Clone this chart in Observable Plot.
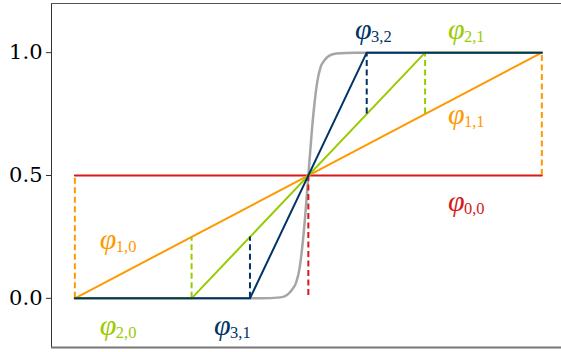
<!DOCTYPE html>
<html>
<head>
<meta charset="utf-8">
<script src="https://cdn.jsdelivr.net/npm/d3@7"></script>
<script src="https://cdn.jsdelivr.net/npm/@observablehq/plot@0.6"></script>
<style>
  html, body { margin: 0; padding: 0; background: #fff; }
  #chart svg { display: block; }
</style>
</head>
<body>
<div id="chart"></div>
<script>
// ---- data ----
const yTicks = [0, 0.5, 1];

// piecewise-linear basis functions (knots)
const phi00X = [0, 1];          const phi00Y = [0.5, 0.5];
const phi1X  = [0, 1];          const phi1Y  = [0, 1];
const phi2X  = [0, 0.25, 0.75, 1]; const phi2Y = [0, 0, 1, 1];
const phi3X  = [0, 0.375, 0.625, 1]; const phi3Y = [0, 0, 1, 1];

// steep gray step curve
const grayX = [0, 0.40, 0.44, 0.455, 0.465, 0.474, 0.481, 0.487, 0.493, 0.5, 0.507, 0.513, 0.519, 0.526, 0.535, 0.545, 0.56, 0.60, 1];
const grayY = [0, 0, 0.004, 0.015, 0.035, 0.065, 0.12, 0.21, 0.33, 0.5, 0.67, 0.79, 0.88, 0.94, 0.97, 0.988, 0.997, 1, 1];

// dashed drops: x, from, to
const redDashX = [0.5];            const redDashY1 = [0.5];         const redDashY2 = [0];
const orangeDashX = [0, 1];        const orangeDashY1 = [0, 0.5];   const orangeDashY2 = [0.5, 1];
const greenDashX = [0.25, 0.75];   const greenDashY1 = [0, 0.75];   const greenDashY2 = [0.25, 1];
const navyDashX = [0.375, 0.625];  const navyDashY1 = [0, 0.75];    const navyDashY2 = [0.25, 1];

// labels
const labelMain = ["φ", "φ", "φ", "φ", "φ", "φ", "φ"];
const labelSub  = ["3,2", "2,1", "1,1", "1,0", "0,0", "2,0", "3,1"];
const labelX    = [0.600, 0.799, 0.799, 0.0535, 0.799, 0.0535, 0.298];
const labelY    = [1.081, 1.081, 0.736, 0.228, 0.382, -0.122, -0.122];
const labelKey  = ["navy", "green", "orange", "orange", "red", "green", "navy"];

// ---- styling ----
const colors = { red: "#d7191c", orange: "#ff9900", green: "#99cc00", navy: "#003366", gray: "#a6a6a6" };
const SW = 2;
const DASH = "6,3.5";

const pts = (xs, ys) => xs.map((x, i) => ({ x, y: ys[i] }));
const drops = (xs, y1s, y2s) => xs.map((x, i) => ({ x, y1: y1s[i], y2: y2s[i] }));
const labels = labelMain.map((t, i) => ({ t, s: labelSub[i], x: labelX[i], y: labelY[i], c: colors[labelKey[i]] }));

const chart = Plot.plot({
  width: 561,
  height: 352,
  marginLeft: 51,
  marginRight: 0,
  marginTop: 3,
  marginBottom: 5,
  style: { fontFamily: "DejaVu Serif", background: "#fff", color: "#000", overflow: "visible" },
  x: { domain: [-0.05, 1.0421], axis: null },
  y: { domain: [-0.2, 1.2] },
  marks: [
    // frame (left, top, bottom)
    Plot.ruleX([-0.05], { stroke: "#333", strokeWidth: 1 }),
    Plot.ruleY([1.2], { stroke: "#555", strokeWidth: 1.2 }),
    Plot.ruleY([-0.2], { stroke: "#777", strokeWidth: 2 }),
    Plot.axisY({ ticks: yTicks, tickFormat: d3.format(".1f"), tickSize: 5, tickPadding: 4, fontSize: 21, label: null, stroke: "#333" }),

    Plot.line(pts(grayX, grayY), { x: "x", y: "y", stroke: colors.gray, strokeWidth: 2.5, curve: "monotone-x" }),

    Plot.line(pts(phi00X, phi00Y), { x: "x", y: "y", stroke: colors.red, strokeWidth: SW }),
    Plot.ruleX(drops(redDashX, redDashY1, redDashY2), { x: "x", y1: "y1", y2: "y2", stroke: colors.red, strokeWidth: SW, strokeDasharray: DASH }),

    Plot.line(pts(phi1X, phi1Y), { x: "x", y: "y", stroke: colors.orange, strokeWidth: SW }),
    Plot.ruleX(drops(orangeDashX, orangeDashY1, orangeDashY2), { x: "x", y1: "y1", y2: "y2", stroke: colors.orange, strokeWidth: SW, strokeDasharray: DASH }),

    Plot.line(pts(phi2X, phi2Y), { x: "x", y: "y", stroke: colors.green, strokeWidth: SW }),
    Plot.ruleX(drops(greenDashX, greenDashY1, greenDashY2), { x: "x", y1: "y1", y2: "y2", stroke: colors.green, strokeWidth: SW, strokeDasharray: DASH }),

    Plot.line(pts(phi3X, phi3Y), { x: "x", y: "y", stroke: colors.navy, strokeWidth: SW }),
    Plot.ruleX(drops(navyDashX, navyDashY1, navyDashY2), { x: "x", y1: "y1", y2: "y2", stroke: colors.navy, strokeWidth: SW, strokeDasharray: DASH }),

    // labels: φ then subscript
    Plot.text(labels, { x: "x", y: "y", text: "t", fill: "c", textAnchor: "start", fontSize: 30, fontStyle: "italic", fontFamily: "Liberation Serif", dy: -3 }),
    Plot.text(labels, { x: "x", y: "y", text: "s", fill: "c", textAnchor: "start", fontSize: 16.5, dx: 16, dy: 4, fontFamily: "Liberation Serif" })
  ]
});

document.getElementById("chart").appendChild(chart);
</script>
</body>
</html>
